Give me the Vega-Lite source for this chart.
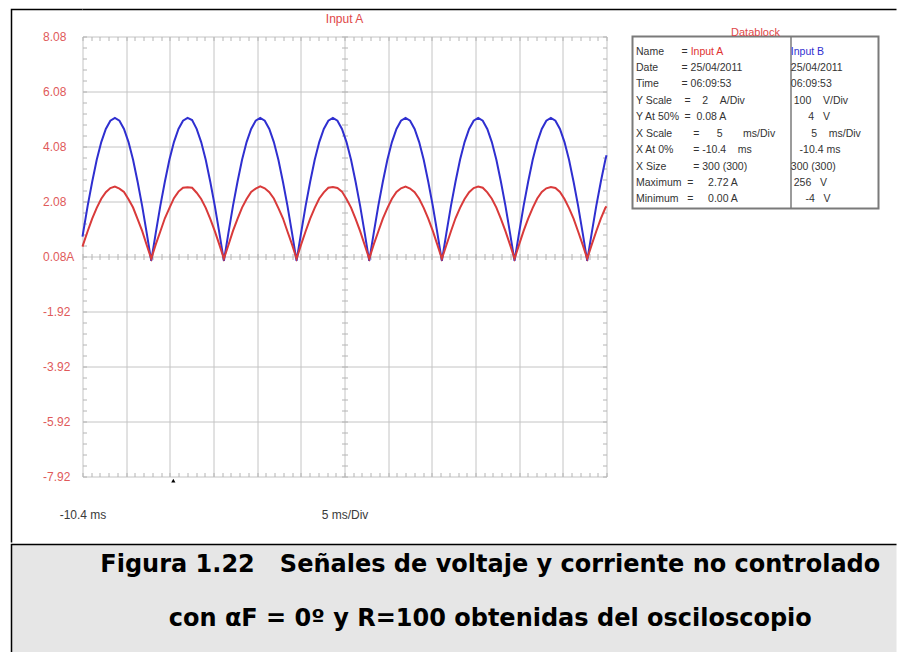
{
  "$schema": "https://vega.github.io/schema/vega-lite/v6.json",
  "background": "white",
  "padding": {"left": 10.5, "top": 8.5, "right": 0, "bottom": 0},
  "config": {"font": "Liberation Sans", "view": {"stroke": null}},
  "datasets": {
    "wave": [
      {"t": -10.4, "a": 0.44, "b": 40}, {"t": -10.33, "a": 0.51, "b": 47}, {"t": -9.81, "a": 1.0, "b": 96}, {"t": -9.29, "a": 1.46, "b": 140}, {"t": -8.77, "a": 1.85, "b": 180}, {"t": -8.25, "a": 2.18, "b": 212}, {"t": -7.73, "a": 2.42, "b": 236}, {"t": -7.21, "a": 2.57, "b": 251}, {"t": -6.69, "a": 2.62, "b": 256}, {"t": -6.17, "a": 2.55, "b": 251}, {"t": -5.65, "a": 2.43, "b": 236}, {"t": -5.13, "a": 2.16, "b": 212}, {"t": -4.61, "a": 1.86, "b": 180}, {"t": -4.09, "a": 1.44, "b": 140}, {"t": -3.57, "a": 1.01, "b": 96}, {"t": -3.05, "a": 0.5, "b": 47},
      {"t": -2.53, "a": 0.0, "b": -4}, {"t": -2.01, "a": 0.52, "b": 47}, {"t": -1.49, "a": 0.99, "b": 96}, {"t": -0.97, "a": 1.47, "b": 140}, {"t": -0.45, "a": 1.84, "b": 180}, {"t": 0.07, "a": 2.2, "b": 212}, {"t": 0.59, "a": 2.44, "b": 236}, {"t": 1.11, "a": 2.58, "b": 251}, {"t": 1.63, "a": 2.6, "b": 256}, {"t": 2.15, "a": 2.58, "b": 252}, {"t": 2.67, "a": 2.4, "b": 236}, {"t": 3.19, "a": 2.17, "b": 212}, {"t": 3.71, "a": 1.85, "b": 180}, {"t": 4.23, "a": 1.45, "b": 140}, {"t": 4.75, "a": 1.0, "b": 96}, {"t": 5.27, "a": 0.51, "b": 47},
      {"t": 5.79, "a": 0.0, "b": -4}, {"t": 6.31, "a": 0.5, "b": 47}, {"t": 6.83, "a": 1.01, "b": 96}, {"t": 7.35, "a": 1.45, "b": 140}, {"t": 7.87, "a": 1.86, "b": 180}, {"t": 8.39, "a": 2.17, "b": 212}, {"t": 8.91, "a": 2.43, "b": 236}, {"t": 9.43, "a": 2.55, "b": 251}, {"t": 9.95, "a": 2.63, "b": 256}, {"t": 10.47, "a": 2.56, "b": 251}, {"t": 10.99, "a": 2.42, "b": 236}, {"t": 11.51, "a": 2.19, "b": 212}, {"t": 12.03, "a": 1.84, "b": 180}, {"t": 12.55, "a": 1.47, "b": 140}, {"t": 13.07, "a": 0.99, "b": 96}, {"t": 13.59, "a": 0.52, "b": 47},
      {"t": 14.11, "a": 0.0, "b": -4}, {"t": 14.63, "a": 0.51, "b": 47}, {"t": 15.15, "a": 1.0, "b": 96}, {"t": 15.67, "a": 1.46, "b": 140}, {"t": 16.19, "a": 1.85, "b": 180}, {"t": 16.71, "a": 2.19, "b": 212}, {"t": 17.23, "a": 2.41, "b": 236}, {"t": 17.75, "a": 2.58, "b": 251}, {"t": 18.27, "a": 2.61, "b": 256}, {"t": 18.79, "a": 2.57, "b": 251}, {"t": 19.31, "a": 2.44, "b": 236}, {"t": 19.83, "a": 2.17, "b": 212}, {"t": 20.35, "a": 1.86, "b": 180}, {"t": 20.87, "a": 1.45, "b": 140}, {"t": 21.39, "a": 1.0, "b": 96}, {"t": 21.91, "a": 0.5, "b": 47},
      {"t": 22.43, "a": 0.0, "b": -4}, {"t": 22.95, "a": 0.52, "b": 47}, {"t": 23.47, "a": 0.99, "b": 96}, {"t": 23.99, "a": 1.46, "b": 140}, {"t": 24.51, "a": 1.84, "b": 180}, {"t": 25.03, "a": 2.18, "b": 212}, {"t": 25.55, "a": 2.43, "b": 236}, {"t": 26.07, "a": 2.56, "b": 251}, {"t": 26.59, "a": 2.62, "b": 256}, {"t": 27.11, "a": 2.55, "b": 251}, {"t": 27.63, "a": 2.42, "b": 236}, {"t": 28.15, "a": 2.18, "b": 212}, {"t": 28.67, "a": 1.85, "b": 180}, {"t": 29.19, "a": 1.46, "b": 140}, {"t": 29.71, "a": 1.01, "b": 96}, {"t": 30.23, "a": 0.51, "b": 47},
      {"t": 30.75, "a": 0.0, "b": -4}, {"t": 31.27, "a": 0.5, "b": 47}, {"t": 31.79, "a": 1.0, "b": 96}, {"t": 32.31, "a": 1.47, "b": 140}, {"t": 32.83, "a": 1.85, "b": 180}, {"t": 33.35, "a": 2.17, "b": 212}, {"t": 33.87, "a": 2.42, "b": 236}, {"t": 34.39, "a": 2.57, "b": 251}, {"t": 34.91, "a": 2.62, "b": 256}, {"t": 35.43, "a": 2.58, "b": 251}, {"t": 35.95, "a": 2.41, "b": 236}, {"t": 36.47, "a": 2.18, "b": 212}, {"t": 36.99, "a": 1.86, "b": 180}, {"t": 37.51, "a": 1.45, "b": 140}, {"t": 38.03, "a": 1.0, "b": 96}, {"t": 38.55, "a": 0.51, "b": 47},
      {"t": 39.07, "a": 0.0, "b": -4}, {"t": 39.59, "a": 0.51, "b": 47}, {"t": 40.11, "a": 1.01, "b": 96}, {"t": 40.63, "a": 1.46, "b": 140}, {"t": 41.15, "a": 1.85, "b": 180}, {"t": 41.67, "a": 2.19, "b": 212}, {"t": 42.19, "a": 2.43, "b": 236}, {"t": 42.71, "a": 2.56, "b": 251}, {"t": 43.23, "a": 2.61, "b": 256}, {"t": 43.75, "a": 2.57, "b": 251}, {"t": 44.27, "a": 2.43, "b": 236}, {"t": 44.79, "a": 2.17, "b": 212}, {"t": 45.31, "a": 1.84, "b": 180}, {"t": 45.83, "a": 1.46, "b": 140}, {"t": 46.35, "a": 0.99, "b": 96}, {"t": 46.87, "a": 0.51, "b": 47},
      {"t": 47.39, "a": 0.0, "b": -4}, {"t": 47.91, "a": 0.51, "b": 47}, {"t": 48.43, "a": 1.0, "b": 96}, {"t": 48.95, "a": 1.46, "b": 140}, {"t": 49.47, "a": 1.85, "b": 180}, {"t": 49.6, "a": 1.9, "b": 188}
    ],
    "block": [
      {"k": "Name", "a": "=", "b": ""},
      {"k": "Date", "a": "= 25/04/2011", "b": "25/04/2011"},
      {"k": "Time", "a": "= 06:09:53", "b": "06:09:53"},
      {"k": "Y Scale", "a": "\u200b\u00a0=\u00a0\u00a0\u00a0\u00a02\u00a0\u00a0\u00a0\u00a0A/Div", "b": "\u200b\u00a0100\u00a0\u00a0\u00a0\u00a0V/Div"},
      {"k": "Y At 50%", "a": "\u200b\u00a0=\u00a0\u00a00.08 A", "b": "\u200b\u00a0\u00a0\u00a0\u00a0\u00a0\u00a04\u00a0\u00a0\u00a0V"},
      {"k": "X Scale", "a": "\u200b\u00a0\u00a0\u00a0\u00a0=\u00a0\u00a0\u00a0\u00a0\u00a0\u00a05\u00a0\u00a0\u00a0\u00a0\u00a0\u00a0\u00a0ms/Div", "b": "\u200b\u00a0\u00a0\u00a0\u00a0\u00a0\u00a0\u00a05\u00a0\u00a0\u00a0\u00a0ms/Div"},
      {"k": "X At 0%", "a": "\u200b\u00a0\u00a0\u00a0\u00a0= -10.4\u00a0\u00a0\u00a0\u00a0ms", "b": "\u200b\u00a0\u00a0\u00a0-10.4 ms"},
      {"k": "X Size", "a": "\u200b\u00a0\u00a0\u00a0\u00a0= 300 (300)", "b": "300 (300)"},
      {"k": "Maximum", "a": "\u200b\u00a0\u00a0=\u00a0\u00a0\u00a0\u00a0\u00a02.72 A", "b": "\u200b\u00a0256\u00a0\u00a0\u00a0V"},
      {"k": "Minimum", "a": "\u200b\u00a0\u00a0=\u00a0\u00a0\u00a0\u00a0\u00a00.00 A", "b": "\u200b\u00a0\u00a0\u00a0\u00a0\u00a0-4\u00a0\u00a0\u00a0V"}
    ],
    "names": [
      {"k": "Name", "slot": "an", "v": "Input A", "ch": "A"},
      {"k": "Name", "slot": "b", "v": "Input B", "ch": "B"}
    ],
    "caption": [
      {"line": "1", "text": "Figura 1.22\u00a0\u00a0\u00a0Señales de voltaje y corriente no controlado"},
      {"line": "2", "text": "con αF = 0º y R=100 obtenidas del osciloscopio"}
    ]
  },
  "spacing": 0,
  "vconcat": [
    {
      "bounds": "flush",
      "spacing": 0,
      "hconcat": [
        {
          "width": 71, "height": 533,
          "data": {"values": [{}]},
          "mark": {"type": "text", "text": ""},
          "encoding": {},
          "view": {"stroke": "black", "strokeWidth": 1.5, "strokeDash": [71, 604, 533, 1]}
        },
        {
          "bounds": "flush",
          "spacing": 0,
          "vconcat": [
            {
              "width": 814, "height": 27,
              "data": {"values": [{}]},
              "mark": {"type": "text", "text": ""},
              "encoding": {},
              "view": {"stroke": "black", "strokeWidth": 1.5, "strokeDash": [814, 3000]}
            },
            {
              "bounds": "flush",
              "spacing": 26,
              "hconcat": [
                {
                  "width": 524, "height": 440,
                  "title": {"text": "Input A", "color": "#e04848", "fontSize": 12, "fontWeight": "normal", "anchor": "middle", "offset": 5},
                  "view": {"stroke": null},
                  "data": {"name": "wave"},
                  "resolve": {"scale": {"y": "independent"}, "axis": {"x": "independent", "y": "independent"}},
                  "layer": [
                    {
                      "mark": {"type": "line", "color": "#2f2fd0", "strokeWidth": 2},
                      "encoding": {
                        "x": {"field": "t", "type": "quantitative", "scale": {"domain": [-10.4, 49.6], "nice": false, "zero": false},
                          "axis": {"orient": "bottom", "values": [-10.4, -5.4, -0.4, 4.6, 9.6, 14.6, 19.6, 24.6, 29.6, 34.6, 39.6, 44.6, 49.6], "grid": true, "gridColor": "#c4c4c4", "gridWidth": 1, "domain": false, "ticks": false, "tickSize": 0, "labelPadding": 33, "labelFontSize": 12, "labelColor": "#3a3a3a", "labelFlush": false, "labelOverlap": false, "labelBound": false, "labelExpr": "datum.value == -10.4 ? '-10.4 ms' : (datum.value == 19.6 ? '5 ms/Div' : '')", "title": null}},
                        "y": {"field": "b", "type": "quantitative", "scale": {"domain": [-396, 404], "nice": false, "zero": false}, "axis": null}
                      }
                    },
                    {
                      "mark": {"type": "line", "color": "#d93a3a", "strokeWidth": 2},
                      "encoding": {
                        "x": {"field": "t", "type": "quantitative", "scale": {"domain": [-10.4, 49.6], "nice": false, "zero": false},
                          "axis": {"orient": "top", "values": [-10.4,-9.4,-8.4,-7.4,-6.4,-5.4,-4.4,-3.4,-2.4,-1.4,-0.4,0.6,1.6,2.6,3.6,4.6,5.6,6.6,7.6,8.6,9.6,10.6,11.6,12.6,13.6,14.6,15.6,16.6,17.6,18.6,19.6,20.6,21.6,22.6,23.6,24.6,25.6,26.6,27.6,28.6,29.6,30.6,31.6,32.6,33.6,34.6,35.6,36.6,37.6,38.6,39.6,40.6,41.6,42.6,43.6,44.6,45.6,46.6,47.6,48.6,49.6], "offset": -4, "tickSize": 4, "tickColor": "#b4b4b4", "domain": false, "grid": false, "labels": false, "title": null}},
                        "y": {"field": "a", "type": "quantitative", "scale": {"domain": [-7.92, 8.08], "nice": false, "zero": false},
                          "axis": {"orient": "left", "values": [-7.92, -5.92, -3.92, -1.92, 0.08, 2.08, 4.08, 6.08, 8.08], "grid": true, "gridColor": "#c4c4c4", "gridWidth": 1, "domain": false, "ticks": false, "tickSize": 0, "labelAlign": "left", "labelBaseline": "middle", "labelPadding": 40, "labelFontSize": 12, "labelColor": "#e05a5a", "labelFlush": false, "labelOverlap": false, "labelBound": false, "labelExpr": "datum.value == 0.08 ? '0.08A' : '' + datum.value", "title": null}}
                      }
                    },
                    {
                      "mark": {"type": "line", "opacity": 0},
                      "encoding": {
                        "x": {"field": "t", "type": "quantitative", "scale": {"domain": [-10.4, 49.6], "nice": false, "zero": false},
                          "axis": {"orient": "bottom", "values": [-10.4,-9.4,-8.4,-7.4,-6.4,-5.4,-4.4,-3.4,-2.4,-1.4,-0.4,0.6,1.6,2.6,3.6,4.6,5.6,6.6,7.6,8.6,9.6,10.6,11.6,12.6,13.6,14.6,15.6,16.6,17.6,18.6,19.6,20.6,21.6,22.6,23.6,24.6,25.6,26.6,27.6,28.6,29.6,30.6,31.6,32.6,33.6,34.6,35.6,36.6,37.6,38.6,39.6,40.6,41.6,42.6,43.6,44.6,45.6,46.6,47.6,48.6,49.6], "offset": -4, "tickSize": 4, "tickColor": "#b4b4b4", "domain": false, "grid": false, "labels": false, "title": null}},
                        "y": {"field": "a", "type": "quantitative", "scale": {"domain": [-7.92, 8.08], "nice": false, "zero": false},
                          "axis": {"orient": "left", "values": [-7.92,-7.52,-7.12,-6.72,-6.32,-5.92,-5.52,-5.12,-4.72,-4.32,-3.92,-3.52,-3.12,-2.72,-2.32,-1.92,-1.52,-1.12,-0.72,-0.32,0.08,0.48,0.88,1.28,1.68,2.08,2.48,2.88,3.28,3.68,4.08,4.48,4.88,5.28,5.68,6.08,6.48,6.88,7.28,7.68,8.08], "offset": -4, "tickSize": 4, "tickColor": "#b4b4b4", "domain": false, "grid": false, "labels": false, "title": null}}
                      }
                    },
                    {
                      "mark": {"type": "line", "opacity": 0},
                      "encoding": {
                        "x": {"field": "t", "type": "quantitative", "scale": {"domain": [-10.4, 49.6], "nice": false, "zero": false},
                          "axis": {"orient": "bottom", "values": [-10.4,-9.4,-8.4,-7.4,-6.4,-5.4,-4.4,-3.4,-2.4,-1.4,-0.4,0.6,1.6,2.6,3.6,4.6,5.6,6.6,7.6,8.6,9.6,10.6,11.6,12.6,13.6,14.6,15.6,16.6,17.6,18.6,19.6,20.6,21.6,22.6,23.6,24.6,25.6,26.6,27.6,28.6,29.6,30.6,31.6,32.6,33.6,34.6,35.6,36.6,37.6,38.6,39.6,40.6,41.6,42.6,43.6,44.6,45.6,46.6,47.6,48.6,49.6], "offset": -223, "tickSize": 6, "tickColor": "#b4b4b4", "domain": false, "grid": false, "labels": false, "title": null}},
                        "y": {"field": "a", "type": "quantitative", "scale": {"domain": [-7.92, 8.08], "nice": false, "zero": false},
                          "axis": {"orient": "right", "values": [-7.92,-7.52,-7.12,-6.72,-6.32,-5.92,-5.52,-5.12,-4.72,-4.32,-3.92,-3.52,-3.12,-2.72,-2.32,-1.92,-1.52,-1.12,-0.72,-0.32,0.08,0.48,0.88,1.28,1.68,2.08,2.48,2.88,3.28,3.68,4.08,4.48,4.88,5.28,5.68,6.08,6.48,6.88,7.28,7.68,8.08], "offset": -4, "tickSize": 4, "tickColor": "#b4b4b4", "domain": false, "grid": false, "labels": false, "title": null}}
                      }
                    },
                    {
                      "mark": {"type": "line", "opacity": 0},
                      "encoding": {
                        "x": {"field": "t", "type": "quantitative", "scale": {"domain": [-10.4, 49.6], "nice": false, "zero": false}, "axis": null},
                        "y": {"field": "a", "type": "quantitative", "scale": {"domain": [-7.92, 8.08], "nice": false, "zero": false},
                          "axis": {"orient": "left", "values": [-7.92,-7.52,-7.12,-6.72,-6.32,-5.92,-5.52,-5.12,-4.72,-4.32,-3.92,-3.52,-3.12,-2.72,-2.32,-1.92,-1.52,-1.12,-0.72,-0.32,0.08,0.48,0.88,1.28,1.68,2.08,2.48,2.88,3.28,3.68,4.08,4.48,4.88,5.28,5.68,6.08,6.48,6.88,7.28,7.68,8.08], "offset": -265, "tickSize": 6, "tickColor": "#b4b4b4", "domain": false, "grid": false, "labels": false, "title": null}}
                      }
                    },
                    {
                      "data": {"values": [{"t": 0}]},
                      "mark": {"type": "point", "shape": "triangle-up", "filled": true, "color": "black", "opacity": 1, "size": 18},
                      "encoding": {
                        "x": {"field": "t", "type": "quantitative", "scale": {"domain": [-10.4, 49.6], "nice": false, "zero": false}, "axis": null},
                        "y": {"datum": -8.07, "type": "quantitative", "scale": {"domain": [-7.92, 8.08], "nice": false, "zero": false}, "axis": null}
                      }
                    }
                  ]
                },
                {
                  "width": 246, "height": 172,
                  "title": {"text": "Datablock", "color": "#e04848", "fontSize": 11, "fontWeight": "normal", "anchor": "middle", "offset": -1},
                  "view": {"stroke": "#7a7a7a", "strokeWidth": 2},
                  "encoding": {
                    "y": {"field": "k", "type": "nominal", "sort": null, "scale": {"type": "point", "domain": ["Name", "Date", "Time", "Y Scale", "Y At 50%", "X Scale", "X At 0%", "X Size", "Maximum", "Minimum"], "padding": 0.73, "align": 0.625}, "axis": null}
                  },
                  "layer": [
                    {
                      "data": {"name": "block"},
                      "mark": {"type": "text", "align": "left", "baseline": "middle", "fontSize": 10.5, "color": "#333333"},
                      "encoding": {
                        "x": {"datum": "k", "type": "nominal", "scale": {"type": "point", "domain": ["k","s1","s2","s3","s4","eq","an","s7","s8","s9","s10","s11","s12","s13","s14","s15","s16","b","s18","s19","s20","s21","s22","s23","s24","s25"], "padding": 1, "align": 0.19}, "axis": {"values": ["b"], "grid": true, "gridColor": "#7a7a7a", "gridWidth": 1.5, "domain": false, "ticks": false, "labels": false, "title": null}},
                        "text": {"field": "k"}
                      }
                    },
                    {
                      "data": {"name": "block"},
                      "mark": {"type": "text", "align": "left", "baseline": "middle", "fontSize": 10.5, "color": "#333333"},
                      "encoding": {
                        "x": {"datum": "eq", "type": "nominal", "scale": {"type": "point", "domain": ["k","s1","s2","s3","s4","eq","an","s7","s8","s9","s10","s11","s12","s13","s14","s15","s16","b","s18","s19","s20","s21","s22","s23","s24","s25"], "padding": 1, "align": 0.19}, "axis": {"values": ["b"], "grid": true, "gridColor": "#7a7a7a", "gridWidth": 1.5, "domain": false, "ticks": false, "labels": false, "title": null}},
                        "text": {"field": "a"}
                      }
                    },
                    {
                      "data": {"name": "block"},
                      "transform": [{"filter": "datum.b != ''"}],
                      "mark": {"type": "text", "align": "left", "baseline": "middle", "fontSize": 10.5, "color": "#333333"},
                      "encoding": {
                        "x": {"datum": "b", "type": "nominal", "scale": {"type": "point", "domain": ["k","s1","s2","s3","s4","eq","an","s7","s8","s9","s10","s11","s12","s13","s14","s15","s16","b","s18","s19","s20","s21","s22","s23","s24","s25"], "padding": 1, "align": 0.19}, "axis": {"values": ["b"], "grid": true, "gridColor": "#7a7a7a", "gridWidth": 1.5, "domain": false, "ticks": false, "labels": false, "title": null}},
                        "text": {"field": "b"}
                      }
                    },
                    {
                      "data": {"name": "names"},
                      "mark": {"type": "text", "align": "left", "baseline": "middle", "fontSize": 10.5},
                      "encoding": {
                        "x": {"field": "slot", "type": "nominal", "scale": {"type": "point", "domain": ["k","s1","s2","s3","s4","eq","an","s7","s8","s9","s10","s11","s12","s13","s14","s15","s16","b","s18","s19","s20","s21","s22","s23","s24","s25"], "padding": 1, "align": 0.19}, "axis": {"values": ["b"], "grid": true, "gridColor": "#7a7a7a", "gridWidth": 1.5, "domain": false, "ticks": false, "labels": false, "title": null}},
                        "color": {"field": "ch", "type": "nominal", "scale": {"domain": ["A", "B"], "range": ["#e03030", "#2f2fd0"]}, "legend": null},
                        "text": {"field": "v"}
                      }
                    }
                  ]
                }
              ]
            }
          ]
        }
      ]
    },
    {
      "width": 885, "height": 108,
      "view": {"fill": "#e6e6e6", "stroke": "black", "strokeWidth": 1.5, "strokeDash": [885, 993, 108, 1]},
      "data": {"name": "caption"},
      "mark": {"type": "text", "font": "DejaVu Sans", "fontSize": 24, "fontWeight": "bold", "align": "center", "baseline": "alphabetic", "color": "black"},
      "encoding": {
        "x": {"datum": "c", "type": "nominal", "scale": {"type": "point", "domain": ["c"], "padding": 0.5, "align": 0.541}, "axis": null},
        "y": {"field": "line", "type": "nominal", "scale": {"type": "point", "padding": 0.5}, "axis": null},
        "text": {"field": "text"}
      }
    }
  ]
}
